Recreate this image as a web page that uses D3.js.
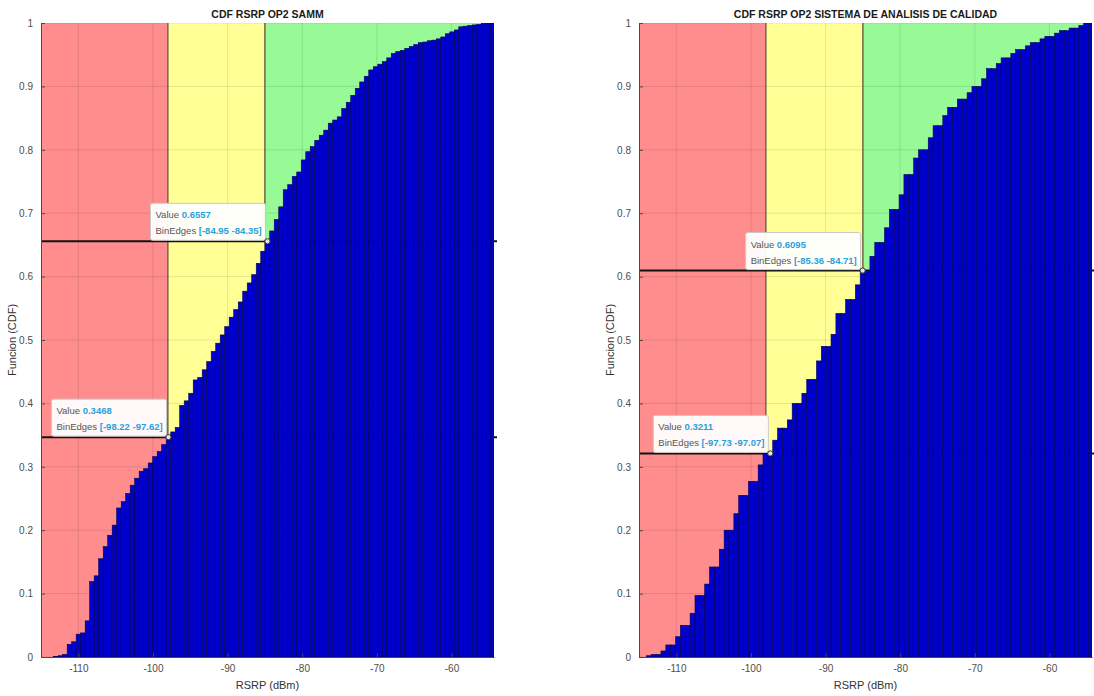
<!DOCTYPE html>
<html>
<head>
<meta charset="utf-8">
<script src="https://cdn.jsdelivr.net/npm/d3@7"></script>
<style>
  body { margin: 0; background: #fff; }
  svg { display: block; }
  text { font-family: "Liberation Sans", Arial, Helvetica, sans-serif; }
</style>
</head>
<body>
<svg id="fig" width="1094" height="696"></svg>
<script>
// ---- shared axis setup ----
const xTickValues = [-110, -100, -90, -80, -70, -60];
const yTickValues = [0, 0.1, 0.2, 0.3, 0.4, 0.5, 0.6, 0.7, 0.8, 0.9, 1];
const xLimits = [-115, -54.3];
const zoneBounds = [-98, -85];          // poor | fair | good RSRP
const xLabel = "RSRP (dBm)";
const yLabel = "Funcion (CDF)";

// ---- SAMM measurements: cumulative fraction per bin ----
const sammTitle = "CDF RSRP OP2 SAMM";
const sammBinStart = -114.508;
const sammBinWidth = 0.60315;
const sammCdf = [
  0, 0, 0.001, 0.002, 0.004, 0.020, 0.024, 0.036, 0.038, 0.057,
  0.119, 0.128, 0.155, 0.174, 0.192, 0.208, 0.235, 0.245, 0.258, 0.271,
  0.282, 0.293, 0.297, 0.306, 0.316, 0.324, 0.335, 0.3468, 0.355, 0.362,
  0.397, 0.404, 0.416, 0.437, 0.441, 0.453, 0.466, 0.482, 0.495, 0.508,
  0.521, 0.536, 0.548, 0.560, 0.577, 0.590, 0.603, 0.621, 0.640, 0.6557,
  0.672, 0.690, 0.710, 0.737, 0.745, 0.758, 0.765, 0.784, 0.797, 0.805,
  0.815, 0.823, 0.831, 0.842, 0.847, 0.852, 0.865, 0.875, 0.886, 0.897,
  0.907, 0.916, 0.926, 0.931, 0.935, 0.939, 0.945, 0.952, 0.955, 0.957,
  0.960, 0.963, 0.966, 0.969, 0.970, 0.972, 0.973, 0.975, 0.978, 0.983,
  0.986, 0.989, 0.994, 0.995, 0.996, 0.997, 0.998, 0.9995, 1.0, 1.0
];
const sammTipBins = [27, 49];
const sammTipEdges = [["-98.22", "-97.62"], ["-84.95", "-84.35"]];

// ---- quality-analysis system measurements ----
const calidadTitle = "CDF RSRP OP2 SISTEMA DE ANALISIS DE CALIDAD";
const calidadBinStart = -114.66;
const calidadBinWidth = 0.6511;
const calidadCdf = [
  0, 0.002, 0.004, 0.004, 0.0095, 0.019, 0.019, 0.032, 0.050, 0.050,
  0.069, 0.097, 0.097, 0.115, 0.142, 0.142, 0.170, 0.200, 0.200, 0.226,
  0.255, 0.255, 0.277, 0.277, 0.303, 0.3211, 0.3211, 0.342, 0.361, 0.361,
  0.374, 0.400, 0.400, 0.416, 0.438, 0.438, 0.467, 0.490, 0.490, 0.509,
  0.542, 0.542, 0.564, 0.564, 0.587, 0.6095, 0.6095, 0.632, 0.654, 0.654,
  0.677, 0.706, 0.706, 0.729, 0.761, 0.761, 0.787, 0.800, 0.800, 0.819,
  0.838, 0.838, 0.854, 0.867, 0.867, 0.880, 0.880, 0.890, 0.900, 0.900,
  0.912, 0.928, 0.928, 0.936, 0.945, 0.945, 0.952, 0.958, 0.958, 0.964,
  0.969, 0.969, 0.975, 0.979, 0.979, 0.984, 0.988, 0.988, 0.992, 0.992,
  0.996, 1.0, 1.0
];
const calidadTipBins = [26, 45];
const calidadTipEdges = [["-97.73", "-97.07"], ["-85.36", "-84.71"]];

// ---- layout ----
const plotTop = 23, plotW = 453, plotH = 634;
const zoneColors = ["#ff8d8d", "#ffff96", "#97fa97"];

const svg = d3.select("#fig");

function drawPanel(id, left, title, binStart, binWidth, cdf, tipBins, tipEdges) {
  const x = d3.scaleLinear().domain(xLimits).range([0, plotW]);
  const y = d3.scaleLinear().domain([0, 1]).range([plotH, 0]);
  const g = svg.append("g").attr("transform", `translate(${left},${plotTop})`);

  g.append("clipPath").attr("id", "clip-" + id)
    .append("rect").attr("width", plotW).attr("height", plotH);
  const plot = g.append("g").attr("clip-path", `url(#clip-${id})`);

  // coloured quality zones
  const zoneEdges = [xLimits[0], ...zoneBounds, xLimits[1]];
  plot.selectAll("rect.zone").data(zoneColors).join("rect")
    .attr("class", "zone")
    .attr("x", (d, i) => x(zoneEdges[i]))
    .attr("width", (d, i) => x(zoneEdges[i + 1]) - x(zoneEdges[i]))
    .attr("y", 0).attr("height", plotH)
    .attr("fill", d => d);

  // grid
  plot.selectAll("line.vgrid").data(xTickValues).join("line")
    .attr("x1", d => x(d)).attr("x2", d => x(d))
    .attr("y1", 0).attr("y2", plotH)
    .attr("stroke", "#000").attr("stroke-opacity", 0.1).attr("stroke-width", 1);
  plot.selectAll("line.hgrid").data(yTickValues).join("line")
    .attr("x1", 0).attr("x2", plotW)
    .attr("y1", d => y(d)).attr("y2", d => y(d))
    .attr("stroke", "#000").attr("stroke-opacity", 0.1).attr("stroke-width", 1);

  // zone boundaries
  plot.selectAll("line.zb").data(zoneBounds).join("line")
    .attr("x1", d => x(d)).attr("x2", d => x(d))
    .attr("y1", 0).attr("y2", plotH)
    .attr("stroke", "#6a5c40").attr("stroke-width", 1.4);

  // reference lines at the data-tip levels, running under the bars
  g.insert("g", () => plot.node().nextSibling)
    .selectAll("line").data(tipBins).join("line")
    .attr("x1", 0).attr("x2", plotW + 3)
    .attr("y1", d => y(cdf[d])).attr("y2", d => y(cdf[d]))
    .attr("stroke", "#111").attr("stroke-width", 2);

  // histogram bars (cdf normalisation), drawn above the reference lines
  const barLayer = g.append("g").attr("clip-path", `url(#clip-${id})`);
  barLayer.selectAll("rect.bar").data(cdf).join("rect")
    .attr("x", (d, i) => x(binStart + i * binWidth))
    .attr("width", (d, i) => x(binStart + (i + 1) * binWidth) - x(binStart + i * binWidth))
    .attr("y", d => y(d))
    .attr("height", d => plotH - y(d))
    .attr("fill", "#0000cd")
    .attr("stroke", "#00005a").attr("stroke-width", 0.6);

  // axes (ticks point inward, plain hyphen minus)
  const fmt = d => String(d);
  const yAxis = d3.axisLeft(y).tickValues(yTickValues)
    .tickFormat(fmt).tickSizeInner(-4).tickSizeOuter(0).tickPadding(8);
  const ya = g.append("g").call(yAxis);
  const xAxis = d3.axisBottom(x).tickValues(xTickValues)
    .tickFormat(fmt).tickSizeInner(-4).tickSizeOuter(0).tickPadding(8);
  const xa = g.append("g").attr("transform", `translate(0,${plotH})`).call(xAxis);
  [ya, xa].forEach(a => {
    a.select(".domain").attr("stroke", "#4a4a4a").attr("stroke-width", 1);
    a.selectAll(".tick line").attr("stroke", "#4a4a4a");
    a.selectAll(".tick text").attr("fill", "#4d4d4d").style("font-size", "10px");
  });

  // titles and labels
  g.append("text").attr("x", plotW / 2).attr("y", -5)
    .attr("text-anchor", "middle").attr("font-weight", "bold")
    .attr("fill", "#1a1a1a").style("font-size", "10.5px").text(title);
  g.append("text").attr("x", plotW / 2).attr("y", plotH + 32)
    .attr("text-anchor", "middle").attr("fill", "#333")
    .style("font-size", "11px").text(xLabel);
  g.append("text").attr("transform", `translate(-25,${plotH / 2}) rotate(-90)`)
    .attr("text-anchor", "middle").attr("fill", "#333")
    .style("font-size", "11px").text(yLabel);

  // data tips
  tipBins.forEach((b, k) => {
    const mx = x(binStart + (b + 0.5) * binWidth);
    const my = y(cdf[b]);
    const bw = 115, bh = 37;
    const tg = g.append("g").attr("transform", `translate(${mx - 2 - bw},${my - 1 - bh})`);
    tg.append("rect").attr("width", bw).attr("height", bh).attr("rx", 2)
      .attr("fill", "#fff").attr("fill-opacity", 0.95)
      .attr("stroke", "#c8c8c8").attr("stroke-width", 1);
    const t1 = tg.append("text").attr("x", 5).attr("y", 15).style("font-size", "9.5px");
    t1.append("tspan").attr("fill", "#555").text("Value ");
    t1.append("tspan").attr("fill", "#2a9fdc").attr("font-weight", "bold").text(cdf[b].toFixed(4));
    const t2 = tg.append("text").attr("x", 5).attr("y", 31).style("font-size", "9.5px");
    t2.append("tspan").attr("fill", "#555").text("BinEdges ");
    t2.append("tspan").attr("fill", "#2a9fdc").attr("font-weight", "bold")
      .text(`[${tipEdges[k][0]} ${tipEdges[k][1]}]`);
    g.append("circle").attr("cx", mx).attr("cy", my).attr("r", 2.6)
      .attr("fill", "#e6e6e6").attr("stroke", "#333").attr("stroke-width", 1);
  });
}

drawPanel("samm", 41, sammTitle, sammBinStart, sammBinWidth, sammCdf, sammTipBins, sammTipEdges);
drawPanel("calidad", 639, calidadTitle, calidadBinStart, calidadBinWidth, calidadCdf, calidadTipBins, calidadTipEdges);
</script>
</body>
</html>
